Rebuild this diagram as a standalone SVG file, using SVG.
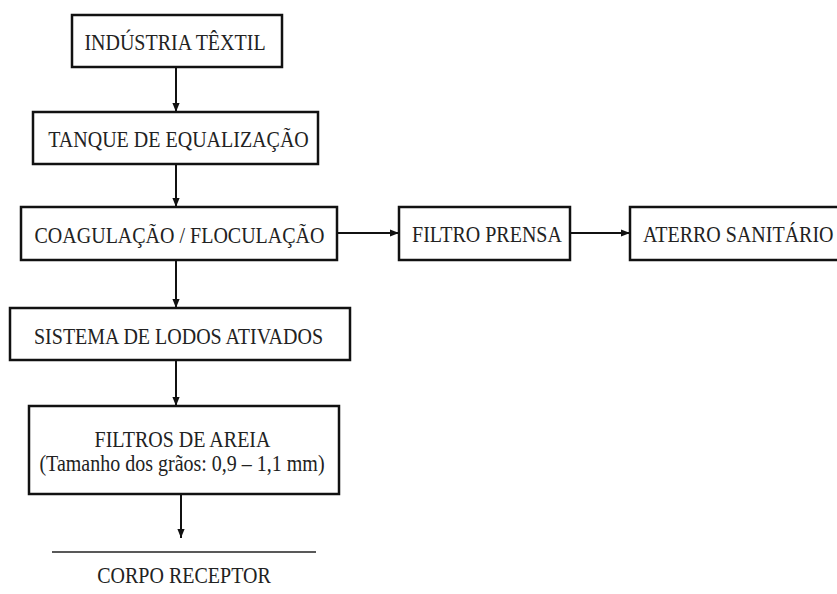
<svg xmlns="http://www.w3.org/2000/svg" width="837" height="594" viewBox="0 0 837 594">
<style>
.box{fill:#fff;stroke:#111;stroke-width:2.5}
.t{font-family:"Liberation Serif","Times New Roman",serif;font-size:20px;fill:#222;text-anchor:middle}
.c{stroke:#111;stroke-width:2;fill:none}
</style>
<defs>
<marker id="ah" viewBox="0 0 10 10" refX="10" refY="5" markerWidth="4.5" markerHeight="4.5" orient="auto" markerUnits="strokeWidth">
<path d="M0,1 L10,5 L0,9 Z" fill="#111"/>
</marker>
</defs>
<rect width="837" height="594" fill="#fff"/>
<g id="connectors">
<line class="c" x1="176" y1="67" x2="176" y2="112" marker-end="url(#ah)"/>
<line class="c" x1="176" y1="164" x2="176" y2="207" marker-end="url(#ah)"/>
<line class="c" x1="176" y1="260" x2="176" y2="308" marker-end="url(#ah)"/>
<line class="c" x1="176" y1="360" x2="176" y2="406" marker-end="url(#ah)"/>
<line class="c" x1="181" y1="494" x2="181" y2="538" marker-end="url(#ah)"/>
<line class="c" x1="337" y1="233" x2="399" y2="233" marker-end="url(#ah)"/>
<line class="c" x1="570" y1="233" x2="630" y2="233" marker-end="url(#ah)"/>
</g>
<g id="n1"><rect class="box" x="72" y="15" width="210" height="52"/><g transform="translate(175,50) scale(1,1.15)"><text class="t">INDÚSTRIA TÊXTIL</text></g></g>
<g id="n2"><rect class="box" x="33" y="112" width="285" height="52"/><g transform="translate(178.5,147) scale(1,1.15)"><text class="t">TANQUE DE EQUALIZAÇÃO</text></g></g>
<g id="n3"><rect class="box" x="21" y="207" width="316" height="53"/><g transform="translate(179.5,243) scale(1,1.15)"><text class="t">COAGULAÇÃO / FLOCULAÇÃO</text></g></g>
<g id="n4"><rect class="box" x="10" y="308" width="340" height="52"/><g transform="translate(178.5,344) scale(1,1.15)"><text class="t">SISTEMA DE LODOS ATIVADOS</text></g></g>
<g id="n5"><rect class="box" x="29" y="406" width="310" height="88"/><g transform="translate(182.5,447) scale(1,1.15)"><text class="t">FILTROS DE AREIA</text></g><g transform="translate(182,471) scale(1,1.15)"><text class="t">(Tamanho dos grãos: 0,9 – 1,1 mm)</text></g></g>
<g id="n6"><line x1="52" y1="552" x2="316" y2="552" stroke="#222" stroke-width="1.5"/><g transform="translate(184,583) scale(1,1.15)"><text class="t">CORPO RECEPTOR</text></g></g>
<g id="n7"><rect class="box" x="399" y="207" width="171" height="53"/><g transform="translate(487,242) scale(1,1.15)"><text class="t">FILTRO PRENSA</text></g></g>
<g id="n8"><rect class="box" x="630" y="207" width="220" height="53"/><g transform="translate(643,242) scale(1,1.15)"><text class="t" style="text-anchor:start">ATERRO SANITÁRIO</text></g></g>
</svg>
